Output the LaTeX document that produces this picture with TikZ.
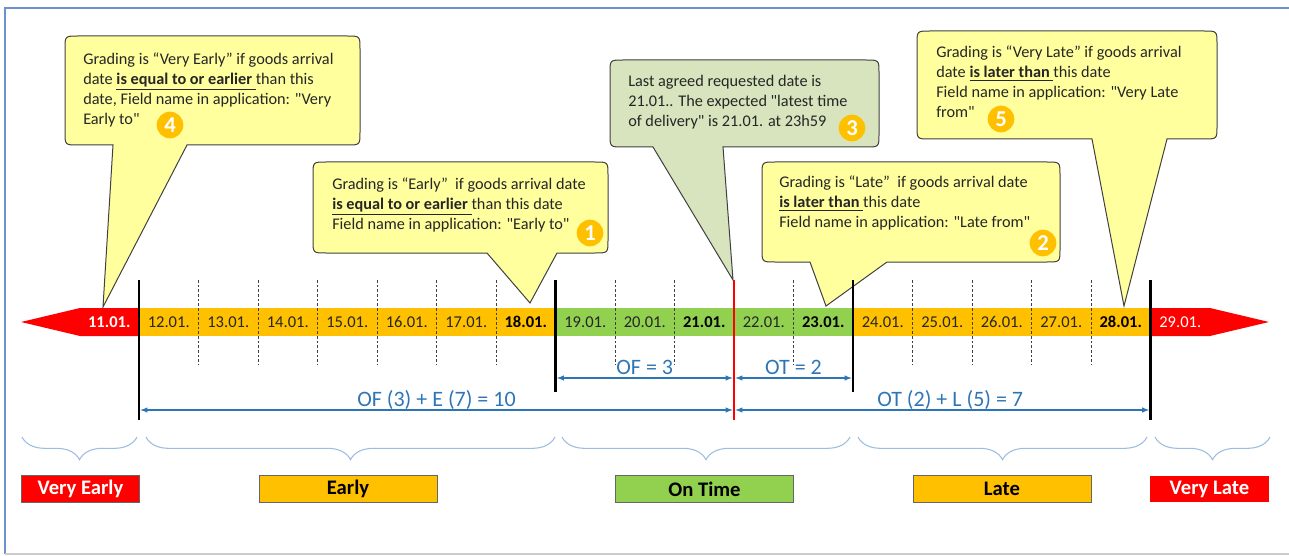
\documentclass[tikz,border=0pt]{standalone}
\usepackage{fontspec}
\setmainfont{Carlito}[Ligatures=TeXOff]
\usepackage{tikz}
\usetikzlibrary{arrows, positioning, calc, decorations.pathreplacing}
\definecolor{barorange}{HTML}{FFC000}
\definecolor{bargreen}{HTML}{92D050}
\definecolor{barred}{HTML}{FF0000}
\definecolor{noteyellow}{HTML}{FFFF9E}
\definecolor{notegreen}{HTML}{D7E4BD}
\definecolor{dimblue}{HTML}{2E75B6}
\definecolor{braceblue}{HTML}{9DBDDF}
\definecolor{framecol}{HTML}{6C92CC}
\tikzstyle{bubble} = [draw=black!75, line width=0.75pt, fill=noteyellow]
\tikzstyle{notetext} = [anchor=north west, inner sep=0pt, align=left, text=black!85, font=\fontsize{12.2}{15}\selectfont]
\tikzstyle{badge} = [circle, fill=barorange, text=white, inner sep=0pt, minimum size=20pt, font=\fontsize{17}{17}\selectfont\bfseries]
\tikzstyle{day} = [inner sep=0pt, text=black!85, font=\fontsize{12.4}{14}\selectfont]
\tikzstyle{daybold} = [day, text=black, font=\fontsize{12.4}{14}\selectfont\bfseries]
\tikzstyle{daywhite} = [day, text=white]
\tikzstyle{dayred} = [daybold, text=white]
\tikzstyle{stopline} = [black, line width=1.9pt]
\tikzstyle{cellline} = [black!75, line width=0.5pt, dash pattern=on 2pt off 1.5pt]
\tikzstyle{dimarrow} = [dimblue, line width=0.8pt, <->, >=latex, shorten <=1pt, shorten >=1pt]
\tikzstyle{dimlabel} = [text=dimblue, inner sep=0pt, anchor=base, yshift=3pt, font=\fontsize{16.5}{16.5}\selectfont]
\tikzstyle{zonebrace} = [braceblue, line width=0.8pt, decorate, decoration={brace, mirror, amplitude=17pt}]
\tikzstyle{zonebox} = [rectangle, minimum height=20pt, inner sep=0pt, draw=black!60, line width=0.6pt, font=\fontsize{15.5}{15.5}\selectfont\bfseries]

\begin{document}
\begin{tikzpicture}[x=0.75pt, y=-0.75pt]
    \useasboundingbox (0,0) rectangle (1289,556);

    % Frame
    \draw[framecol, line width=0.8pt] (1295,8) -- (5,8) -- (5,554);
    \draw[black!20, line width=0.8pt] (5,554) -- (1295,554);

    % Callouts
    \draw[bubble] (103,307) -- (113,145) -- (78,145) .. controls (65,145) .. (65,132) -- (65,49) .. controls (65,36) .. (78,36) -- (347,36) .. controls (360,36) .. (360,49) -- (360,132) .. controls (360,145) .. (347,145) -- (187,145) -- cycle;
    \draw[bubble] (530,303) -- (487,253) -- (326,253) .. controls (313,253) .. (313,240) -- (313,175) .. controls (313,162) .. (326,162) -- (595,162) .. controls (608,162) .. (608,175) -- (608,240) .. controls (608,253) .. (595,253) -- (557,253) -- cycle;
    \draw[bubble, fill=notegreen] (733,280) -- (653,147) -- (623,147) .. controls (610,147) .. (610,134) -- (610,73) .. controls (610,60) .. (623,60) -- (866,60) .. controls (879,60) .. (879,73) -- (879,134) .. controls (879,147) .. (866,147) -- (723,147) -- cycle;
    \draw[bubble] (826,306) -- (810,262) -- (775,262) .. controls (762,262) .. (762,249) -- (762,175) .. controls (762,162) .. (775,162) -- (1047,162) .. controls (1060,162) .. (1060,175) -- (1060,249) .. controls (1060,262) .. (1047,262) -- (887,262) -- cycle;
    \draw[bubble] (1124,306) -- (1092,139) -- (930,139) .. controls (917,139) .. (917,126) -- (917,44) .. controls (917,31) .. (930,31) -- (1204,31) .. controls (1217,31) .. (1217,44) -- (1217,126) .. controls (1217,139) .. (1204,139) -- (1167,139) -- cycle;

    % Callout texts
    \node[notetext] (n4) at (83,53) {Grading is “Very Early” if goods arrival\\date \underline{\textbf{is equal to or earlier}\ }than this\\date, Field name in application: "Very\\Early to"};
    \node[notetext] (n1) at (332,178) {Grading is “Early”\ \ if goods arrival date\\\underline{\textbf{is equal to or earlier}\ }than this date\\Field name in application: "Early to"};
    \node[notetext] (n3) at (628,75) {Last agreed requested date is\\21.01.. The expected "latest time\\of delivery" is 21.01. at 23h59};
    \node[notetext] (n2) at (779,176) {Grading is “Late”\ \ if goods arrival date\\\underline{\textbf{is later than}\ }this date\\Field name in application: "Late from"};
    \node[notetext] (n5) at (936,46) {Grading is “Very Late” if goods arrival\\date \underline{\textbf{is later than}\ }this date\\Field name in application: "Very Late\\from"};

    % Badges
    \node[badge] (b4) at (170,125) {4};
    \node[badge] (b1) at (590,233) {1};
    \node[badge] (b3) at (852,128) {3};
    \node[badge] (b2) at (1043,243) {2};
    \node[badge] (b5) at (1001,119) {5};

    % Time line
    \fill[barred] (21,322) -- (80,308) -- (139,308) -- (139,336) -- (80,336) -- cycle;
    \fill[barorange] (139,308) rectangle (555.5,336);
    \fill[bargreen] (555.5,308) rectangle (853,336);
    \fill[barorange] (853,308) rectangle (1150.5,336);
    \fill[barred] (1150.5,308) -- (1210,308) -- (1269,322) -- (1210,336) -- (1150.5,336) -- cycle;

    \foreach \d in {12,...,17,19,20,22,24,25,26,27}
        \draw[cellline] ({139+(\d-11)*59.5},280) -- ({139+(\d-11)*59.5},365);

    \foreach \d/\st in {11/dayred, 12/day, 13/day, 14/day, 15/day, 16/day, 17/day, 18/daybold, 19/day, 20/day, 21/daybold, 22/day, 23/daybold, 24/day, 25/day, 26/day, 27/day, 28/daybold, 29/daywhite}
        \node[\st] (d\d) at ({139+(\d-11.5)*59.5},322) {\d.01.};

    \draw[stopline] (139,280) -- (139,420);
    \draw[stopline] (555.5,280) -- (555.5,392);
    \draw[stopline] (853,280) -- (853,392);
    \draw[stopline] (1150.5,280) -- (1150.5,420);
    \draw[stopline, barred, line width=1.5pt] (734,280) -- (734,420);

    % Offsets
    \coordinate (of1) at (555.5,378);
    \coordinate (of2) at (734,378);
    \coordinate (ot2) at (853,378);
    \coordinate (e1) at (139,410);
    \coordinate (e2) at (734,410);
    \coordinate (l2) at (1150.5,410);
    \draw[dimarrow] (of1) -- node[dimlabel] (lof) {OF = 3} (of2);
    \draw[dimarrow] (of2) -- node[dimlabel] (lot) {OT = 2} (ot2);
    \draw[dimarrow] (e1) -- node[dimlabel] (le) {OF (3) + E (7) = 10} (e2);
    \draw[dimarrow] (e2) -- node[dimlabel, xshift=6pt] (ll) {OT (2) + L (5) = 7} (l2);

    % Braces
    \draw[zonebrace] (22,437) -- (137,437);
    \draw[zonebrace] (146,437) -- (555,437);
    \draw[zonebrace] (562,437) -- (850,437);
    \draw[zonebrace] (858,437) -- (1147,437);
    \draw[zonebrace] (1155,437) -- (1270,437);

    % Gradings
    \node[zonebox, fill=barred, text=white, minimum width=89pt] (veryearly) at (80.5,489) {Very Early};
    \node[zonebox, fill=barorange, minimum width=133.5pt] (early) at (348,489) {Early};
    \node[zonebox, fill=bargreen, minimum width=134pt] (ontime) at (704.5,489) {On Time};
    \node[zonebox, fill=barorange, minimum width=133.5pt] (late) at (1002,489) {Late};
    \node[zonebox, fill=barred, draw=none, text=white, minimum width=89pt] (verylate) at (1209.5,489) {Very Late};
\end{tikzpicture}
\end{document}
